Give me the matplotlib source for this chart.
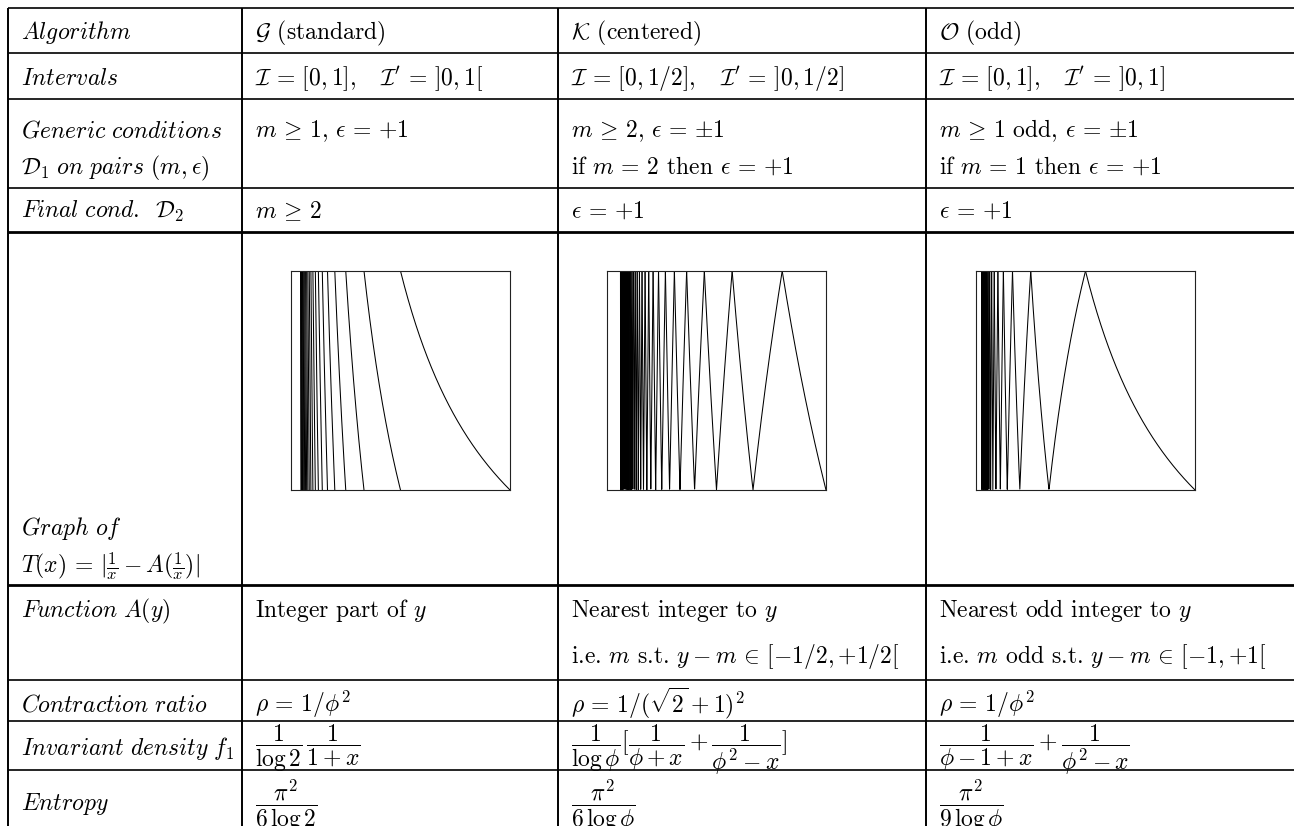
import numpy as np
import matplotlib
matplotlib.use("Agg")
import matplotlib.pyplot as plt

plt.rcParams["mathtext.fontset"] = "cm"
plt.rcParams["font.family"] = ["cmr10", "DejaVu Serif"]

W, H = 1294, 826

# ---- table text, one list per column, one entry (list of lines) per row
row_labels = [
    [r"$\mathit{Algorithm}$"],
    [r"$\mathit{Intervals}$"],
    [r"$\mathit{Generic\ conditions}$", r"$\mathcal{D}_1\ \mathit{on\ pairs}\ (m,\epsilon)$"],
    [r"$\mathit{Final\ cond}$.  $\mathcal{D}_2$"],
    [r"$\mathit{Graph\ of}$", r"$T(x)=|\frac{1}{x}-A(\frac{1}{x})|$"],
    [r"$\mathit{Function}\ A(y)$"],
    [r"$\mathit{Contraction\ ratio}$"],
    [r"$\mathit{Invariant\ density}\ f_1$"],
    [r"$\mathit{Entropy}$"],
]
col_standard = [
    [r"$\mathcal{G}$ (standard)"],
    [r"$\mathcal{I}=[0,1],\quad \mathcal{I}'=]0,1[$"],
    [r"$m\geq 1,\, \epsilon={+1}$"],
    [r"$m\geq 2$"],
    [],
    [r"Integer part of $y$"],
    [r"$\rho=1/\phi^2$"],
    [r"$\dfrac{1}{\log 2}\,\dfrac{1}{1+x}$"],
    [r"$\dfrac{\pi^2}{6\,\log 2}$"],
]
col_centered = [
    [r"$\mathcal{K}$ (centered)"],
    [r"$\mathcal{I}=[0,1/2],\quad \mathcal{I}'=]0,1/2]$"],
    [r"$m\geq 2,\, \epsilon={\pm 1}$", r"if $m=2$ then $\epsilon={+1}$"],
    [r"$\epsilon={+1}$"],
    [],
    [r"Nearest integer to $y$",
     r"i.e. $m$ s.t. $y-m\in[-1/2,{+1/2}[$"],
    [r"$\rho=1/(\sqrt{2}+1)^2$"],
    [r"$\dfrac{1}{\log\phi}[\dfrac{1}{\phi+x}+\dfrac{1}{\phi^2-x}]$"],
    [r"$\dfrac{\pi^2}{6\,\log\phi}$"],
]
col_odd = [
    [r"$\mathcal{O}$ (odd)"],
    [r"$\mathcal{I}=[0,1],\quad \mathcal{I}'=]0,1]$"],
    [r"$m\geq 1$ odd, $\epsilon={\pm 1}$", r"if $m=1$ then $\epsilon={+1}$"],
    [r"$\epsilon={+1}$"],
    [],
    [r"Nearest odd integer to $y$",
     r"i.e. $m$ odd s.t. $y-m\in[-1,{+1}[$"],
    [r"$\rho=1/\phi^2$"],
    [r"$\dfrac{1}{\phi-1+x}+\dfrac{1}{\phi^2-x}$"],
    [r"$\dfrac{\pi^2}{9\,\log\phi}$"],
]

# ---- the three maps T(x) = |1/x - A(1/x)|
map_xmax = [1.0, 0.5, 1.0]          # right end of the interval I
digits_standard = list(range(1, 23))        # m >= 1
digits_centered = list(range(2, 33))        # m >= 2
digits_odd = list(range(1, 38, 2))          # m odd
# y - m range covered by branch m
offsets = [(0.0, 1.0), (-0.5, 0.5), (-1.0, 1.0)]

# ---- layout (pixels)
col_x = [8, 242, 558, 926]
row_y = [8, 53, 99, 188, 232, 585, 680, 721, 770]
thick_rows = [232, 585]
baselines = [[39], [85], [137, 174], [218], [535, 573], [617, 663], [712], [755], [810]]
frac_shift = {7: -4}          # the density fractions sit a bit higher
box_left = [291, 607, 976]
box_top, box_size = 271, 219


def spaced(s):
    # TeX-like room around relations
    for rel in ["=", r"\in", r"\geq"]:
        s = s.replace(rel, r"\," + rel + r"\,")
    return s


fig = plt.figure(figsize=(W / 100, H / 100), dpi=100)
tab = fig.add_axes([0, 0, 1, 1])
tab.set_xlim(0, W)
tab.set_ylim(H, 0)
tab.axis("off")

for y in row_y:
    lw = 2.0 if y in thick_rows else 1.2
    tab.plot([col_x[0], W], [y, y], color="black", lw=lw, solid_capstyle="butt")
for x in col_x:
    tab.plot([x, x], [row_y[0], H], color="black", lw=1.4, solid_capstyle="butt")

for ci, col in enumerate([row_labels, col_standard, col_centered, col_odd]):
    x = col_x[ci] + 13
    for ri, lines in enumerate(col):
        for li, s in enumerate(lines):
            y = baselines[ri][li] + (frac_shift.get(ri, 0) if ci > 0 else 0)
            tab.text(x, y, spaced(s), fontsize=17, ha="left", va="baseline")

# graphs
for k, digits in enumerate([digits_standard, digits_centered, digits_odd]):
    ax = fig.add_axes([box_left[k] / W, 1 - (box_top + box_size) / H,
                       box_size / W, box_size / H])
    xmax = map_xmax[k]
    lo, hi = offsets[k]
    for m in digits:
        a = 1.0 / (m + hi)
        b = min(1.0 / (m + lo), xmax) if m + lo > 0 else xmax
        xs = np.linspace(a, b, 200)
        ax.plot(xs, np.abs(1.0 / xs - m), color="black", lw=0.75)
    ax.set_xlim(0, xmax)
    ax.set_ylim(0, xmax)
    ax.set_xticks([])
    ax.set_yticks([])
    for sp in ax.spines.values():
        sp.set_linewidth(0.8)
        sp.set_color("#222222")

fig.savefig("out.png", dpi=100)
